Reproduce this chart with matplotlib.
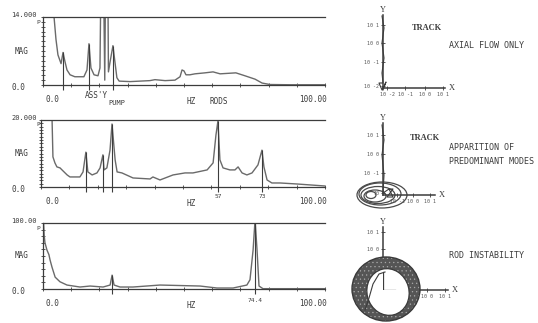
import matplotlib
matplotlib.use('Agg')
import matplotlib.pyplot as plt
from matplotlib.patches import Ellipse

W, H = 538, 323
INK = '#3c3c3c'
CURVE = '#6a6a6a'
MONO = 'DejaVu Sans Mono'

# --- spectrum 1 : axial flow only (MAG vs HZ) ---
f1 = [0.0, 3.5, 3.9, 4.6, 5.3, 6.4, 7.1, 7.8, 8.5, 9.6, 11.3, 14.5, 15.6, 16.3,
      17.0, 18.1, 19.5, 20.2, 20.7, 21.3, 21.9, 22.3, 22.9, 23.2, 23.8, 24.8,
      25.5, 26.2, 27.0, 30.9, 37.9, 39.7, 43.3, 46.8, 48.6, 49.3, 50.0, 50.7,
      52.1, 53.9, 57.4, 60.3, 62.8, 65.6, 68.4, 71.6, 75.2, 77.7, 80.5, 87.6, 100.0]
mag1 = [30.0, 30.0, 14.1, 9.4, 6.2, 4.4, 6.7, 4.8, 3.1, 2.1, 1.7, 1.7, 3.1, 8.5,
        3.5, 2.1, 1.9, 3.5, 30.0, 30.0, 1.0, 30.0, 30.0, 2.7, 4.8, 8.1,
        4.8, 1.5, 0.8, 0.7, 0.9, 1.1, 0.9, 1.0, 1.7, 3.1, 2.9, 2.1,
        2.1, 2.3, 2.5, 2.7, 2.3, 2.4, 2.5, 1.9, 1.2, 0.4, 0.1, 0.05, 0.05]
drop1_f = [7.1, 16.3, 24.8]
drop1_mag = [6.7, 8.5, 8.1]

# --- spectrum 2 : apparition of predominant modes ---
f2 = [0.0, 3.9, 4.2, 4.9, 5.6, 6.7, 7.4, 9.2, 10.2, 13.7, 14.8, 15.8, 16.5, 18.0,
      19.7, 20.8, 21.8, 22.2, 23.2, 24.3, 25.0, 26.1, 26.8, 28.5, 32.4, 38.4,
      39.4, 41.9, 46.5, 50.7, 53.5, 58.5, 60.6, 61.6, 62.3, 63.0, 64.1, 66.5,
      68.3, 69.4, 70.8, 72.5, 74.3, 76.4, 77.8, 78.5, 79.6, 81.3, 84.2, 90.1, 100.0]
mag2 = [40.0, 20.0, 9.0, 7.2, 6.0, 5.7, 5.1, 3.6, 3.0, 3.0, 4.5, 10.4, 4.5, 3.6,
        4.2, 5.7, 9.6, 5.1, 5.7, 11.0, 18.8, 8.1, 4.5, 4.2, 2.7, 2.4,
        3.0, 2.1, 3.6, 4.2, 4.2, 5.1, 7.2, 15.5, 19.7, 8.1, 5.7, 5.1,
        5.1, 6.0, 4.2, 3.6, 4.2, 6.6, 11.0, 6.0, 2.1, 1.2, 1.2, 0.9, 0.3]
drop2_f = [15.8, 21.8, 25.0, 62.3, 77.8]
drop2_mag = [10.4, 9.6, 18.8, 19.7, 11.0]

# --- spectrum 3 : rod instability ---
f3 = [0.0, 0.4, 0.7, 1.4, 2.1, 2.5, 3.2, 4.3, 6.0, 8.5, 13.1, 16.7, 21.3, 23.8,
      24.5, 25.2, 27.3, 31.9, 41.5, 55.7, 61.7, 67.4, 72.3, 73.4, 74.5, 75.2,
      75.9, 76.6, 78.0, 100.0]
mag3 = [120.0, 82.0, 70.0, 59.0, 52.0, 44.0, 33.0, 18.0, 11.0, 6.0, 3.0, 4.5, 3.0, 6.0,
        21.0, 6.0, 3.0, 3.0, 6.0, 4.5, 1.5, 1.5, 6.0, 14.0, 59.0, 105.0,
        59.0, 4.5, 0.5, 0.5]
drop3_f = [24.5, 75.2]
drop3_mag = [21.0, 100.0]

spectra = [
    # (pixel box l, t, r, b), f, mag, top, ytick step, drops
    ((43, 17, 325, 85), f1, mag1, 14.0, 1, drop1_f, drop1_mag),
    ((41, 120, 325, 187), f2, mag2, 20.0, 1, drop2_f, drop2_mag),
    ((43, 223, 325, 289), f3, mag3, 100.0, 10, drop3_f, drop3_mag),
]
top_labels = ['14.000', '20.000', '100.00']

# --- orbit traces (pixel units from the origin of each track plot) ---
trace1_x = [-1, 1, -1, 1, -1, 0, -4, -1, 0, 3, 0]
trace1_y = [72, 60, 45, 30, 15, 5, 5, -2, 0, 6, -2]
orbit2_cx = [-1, -3, -5, -8, -12]
orbit2_cy = [0, 1, 0, -1, 0]
orbit2_w = [50, 42, 34, 22, 10]
orbit2_h = [26, 22, 17, 12, 7]
trace2_x = [-1, 1, -1, 1, 0, 6, 10, 4, 10, 6]
trace2_y = [70, 55, 40, 20, 2, 6, -2, -2, 6, 6]
ring3_outer = (3, 1, 68, 64)
ring3_inner = (5, -2, 42, 47, 15)
trace3_x = [-18, -14, -10, -4, 2]
trace3_y = [-20, -8, 6, 16, 18]

fig = plt.figure(figsize=(W / 100, H / 100), dpi=100)


def box(l, t, r, b):
    return [l / W, 1 - b / H, (r - l) / W, (b - t) / H]


def put(x, y, s, size=5.5, ha='left', family=MONO, **kw):
    fig.text(x / W, 1 - y / H, s, ha=ha, va='center', fontsize=size,
             family=family, color=INK, **kw)


for (l, t, r, b), f, mag, top, step, df, dm in spectra:
    ax = fig.add_axes(box(l, t, r, b))
    ax.plot(f, mag, color=CURVE, lw=1.0)
    ax.vlines(df, -0.07 * top, dm, color=INK, lw=0.8, clip_on=False)
    ax.set_xlim(0, 100)
    ax.set_ylim(0, top)
    ax.spines['right'].set_visible(False)
    for s in ['left', 'top', 'bottom']:
        ax.spines[s].set_color(INK)
        ax.spines[s].set_linewidth(0.9)
    ax.set_xticks(range(0, 101, 10))
    ax.set_yticks([i * step for i in range(int(top / step) + 1)])
    ax.tick_params(direction='inout', length=3, width=0.6, color=INK,
                   labelbottom=False, labelleft=False)

# left-hand axis labels
for (l, t, r, b), lab in zip([s[0] for s in spectra], top_labels):
    put(37, t - 2, lab, ha='right', size=5)
    put(36, t + 5, 'P', size=4.5)
    put(22, (t + b) / 2, 'MAG', ha='center', size=5.5)
    put(18, b + 3, '0.0', ha='center', size=5.5)
    put(52, b + 14, '0.0', ha='center', size=5.5)
    put(327, b + 14, '100.00', ha='right', size=5.5)
    put(191, b + 16, 'HZ', ha='center', size=5.5)

put(96, 95, "ASS'Y", ha='center', size=5.5)
put(117, 103, 'PUMP', ha='center', size=5)
put(219, 102, 'RODS', ha='center', size=5.5)
put(218, 196, '57', ha='center', size=4.5)
put(262, 196, '73', ha='center', size=4.5)
put(255, 300, '74.4', ha='center', size=4.5)

# --- track plots ---
tracks = [
    ((383, 15, 445, 88), ['10 1', '10 0', '10 -1', '10 -2'], [63, 45, 26, 2],
     ['10 -2', '10 -1', '10 0', '10 1'], [4, 22, 42, 60]),
    ((383, 123, 435, 195), ['10 1', '10 0', '10 -1', '10'], [60, 41, 22, 2],
     ['10 -1', '10 0', '10 1'], [14, 30, 47]),
    ((383, 227, 448, 290), ['10 1', '10 0'], [58, 41],
     ['10 0', '10 1'], [44, 62]),
]
taxes = []
for (l, t, r, b), ylab, ypos, xlab, xpos in tracks:
    ax = fig.add_axes(box(l, t, r, b))
    ax.set_xlim(0, r - l)
    ax.set_ylim(0, b - t)
    ax.patch.set_alpha(0)
    for s in ['right', 'top']:
        ax.spines[s].set_visible(False)
    for s in ['left', 'bottom']:
        ax.spines[s].set_color(INK)
        ax.spines[s].set_linewidth(1.1)
    ax.set_yticks(ypos, ylab)
    ax.set_xticks(xpos, xlab)
    ax.tick_params(direction='inout', length=2.5, width=0.6, color=INK,
                   labelsize=3.6, labelcolor='#555', pad=1.5)
    for lbl in ax.get_xticklabels() + ax.get_yticklabels():
        lbl.set_family(MONO)
    put(l, t - 5, 'Y', ha='center', size=6, family='Liberation Serif')
    put(r + 7, b, 'X', ha='center', size=6, family='Liberation Serif')
    taxes.append(ax)

taxes[0].plot(trace1_x, trace1_y, color=INK, lw=0.8, clip_on=False)

for cx, cy, w, h in zip(orbit2_cx, orbit2_cy, orbit2_w, orbit2_h):
    taxes[1].add_patch(Ellipse((cx, cy), w, h, fill=False, ec='#4a4a4a',
                               lw=0.9, clip_on=False))
taxes[1].plot(trace2_x, trace2_y, color=INK, lw=0.8, clip_on=False)

ox, oy, ow, oh = ring3_outer
plt.rcParams['hatch.linewidth'] = 0.4
taxes[2].add_patch(Ellipse((ox, oy), ow, oh, fc='#555555', ec='#a8a8a8',
                           hatch='....', lw=0, clip_on=False, zorder=3))
taxes[2].add_patch(Ellipse((ox, oy), ow, oh, fill=False, ec='#3a3a3a',
                           lw=1.0, clip_on=False, zorder=4))
ix, iy, iw, ih, ang = ring3_inner
taxes[2].add_patch(Ellipse((ix, iy), iw, ih, angle=ang, fc='white',
                           ec='#3a3a3a', lw=0.9, clip_on=False, zorder=4))
taxes[2].plot([0, 0, 12], [18, 0, 0], color=INK, lw=0.9, zorder=5)
taxes[2].plot(trace3_x, trace3_y, color=INK, lw=0.8, zorder=5, clip_on=False)

# captions
put(427, 28, 'TRACK', ha='center', size=6, family='Liberation Serif',
    weight='bold')
put(425, 138, 'TRACK', ha='center', size=6, family='Liberation Serif',
    weight='bold')
put(449, 45, 'AXIAL FLOW ONLY', size=6.0)
put(449, 148, 'APPARITION OF', size=6.0)
put(449, 162, 'PREDOMINANT MODES', size=6.0)
put(449, 256, 'ROD INSTABILITY', size=6.0)

fig.savefig('out.png', dpi=100)
